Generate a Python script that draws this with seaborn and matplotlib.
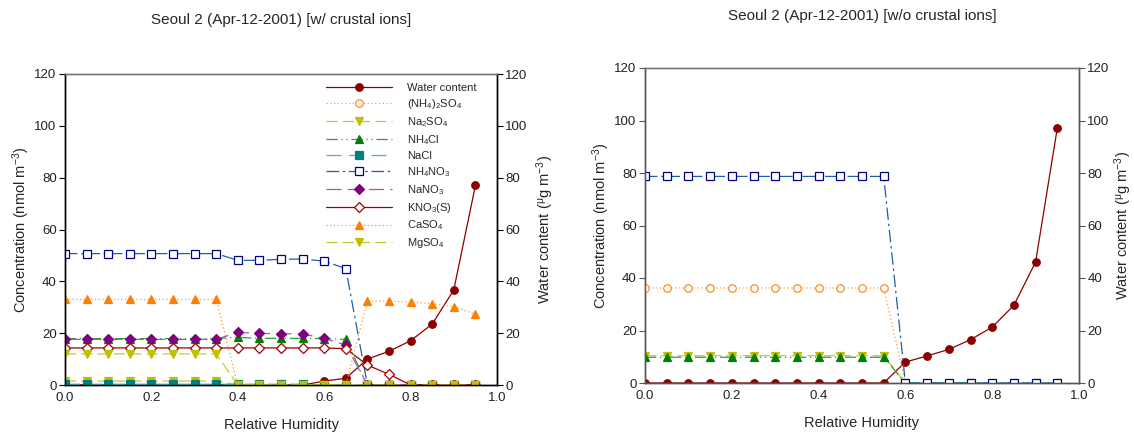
import matplotlib
matplotlib.use("Agg")
import matplotlib.pyplot as plt
import seaborn as sns

# -------------------------------
# Data
# -------------------------------
rh = [0.0, 0.05, 0.10, 0.15, 0.20, 0.25, 0.30, 0.35, 0.40, 0.45,
      0.50, 0.55, 0.60, 0.65, 0.70, 0.75, 0.80, 0.85, 0.90, 0.95]

# left panel: with crustal ions
water_L = [0, 0, 0, 0, 0, 0, 0, 0, 0, 0, 0, 0, 1.5, 2.6, 10.0, 13.0, 17.1, 23.5, 36.7, 77.0]
nh42so4_L = [0, 0, 0, 0, 0, 0, 0, 0, 0, 0, 0, 0, 0, 0, 0, 0, 0, 0, 0, 0]
na2so4_L = [1.5, 1.5, 1.5, 1.5, 1.5, 1.5, 1.5, 1.5, 0, 0, 0, 0, 0, 0, 0, 0, 0, 0, 0, 0]
nh4cl_L = [17.9, 17.9, 17.9, 17.9, 17.9, 17.9, 17.9, 17.9, 18.4, 18.0, 18.0, 18.0, 17.9, 17.6, 0, 0, 0, 0, 0, 0]
nacl_L = [0.3, 0.3, 0.3, 0.3, 0.3, 0.3, 0.3, 0.3, 0.3, 0.3, 0.3, 0.3, 0, 0, 0, 0, 0, 0, 0, 0]
nh4no3_L = [50.7, 50.7, 50.7, 50.7, 50.7, 50.7, 50.7, 50.7, 48.1, 48.1, 48.5, 48.6, 47.8, 44.9, 0, 0, 0, 0, 0, 0]
nano3_L = [17.6, 17.6, 17.6, 17.6, 17.6, 17.6, 17.6, 17.6, 20.3, 19.9, 19.8, 19.7, 18.0, 15.4, 0, 0, 0, 0, 0, 0]
kno3_L = [14.3, 14.3, 14.3, 14.3, 14.3, 14.3, 14.3, 14.3, 14.3, 14.3, 14.3, 14.3, 14.3, 14.0, 7.7, 4.1, 0, 0, 0, 0]
caso4_L = [33.0, 33.0, 33.0, 33.0, 33.0, 33.0, 33.0, 33.0, 0, 0, 0, 0, 0, 0, 32.5, 32.3, 32.0, 31.4, 30.2, 27.3]
mgso4_L = [12.0, 12.0, 12.0, 12.0, 12.0, 12.0, 12.0, 12.0, 0, 0, 0, 0, 0, 0, 0, 0, 0, 0, 0, 0]

# right panel: without crustal ions
water_R = [0, 0, 0, 0, 0, 0, 0, 0, 0, 0, 0, 0, 8.0, 10.3, 12.8, 16.5, 21.3, 29.6, 46.1, 97.1]
nh42so4_R = [36.2, 36.2, 36.2, 36.2, 36.2, 36.2, 36.2, 36.2, 36.2, 36.2, 36.2, 36.2, 0, 0, 0, 0, 0, 0, 0, 0]
na2so4_R = [10.4, 10.4, 10.4, 10.4, 10.4, 10.4, 10.4, 10.4, 10.4, 10.4, 10.4, 10.4, 0, 0, 0, 0, 0, 0, 0, 0]
nh4cl_R = [9.8, 9.8, 9.8, 9.8, 9.8, 9.8, 9.8, 9.8, 9.8, 9.8, 9.8, 9.8, 0, 0, 0, 0, 0, 0, 0, 0]
nh4no3_R = [78.7, 78.7, 78.7, 78.7, 78.7, 78.7, 78.7, 78.7, 78.7, 78.7, 78.7, 78.7, 0, 0, 0, 0, 0, 0, 0, 0]

titles = ["Seoul 2 (Apr-12-2001) [w/ crustal ions]", "Seoul 2 (Apr-12-2001) [w/o crustal ions]"]

# -------------------------------
# Series styles
# -------------------------------
styles = {
    "water":   dict(label="Water content", color="#8B0000", ls="-", marker="o", mfc="#8B0000", mec="#8B0000"),
    "nh42so4": dict(label=r"(NH$_4$)$_2$SO$_4$", color="#FF9933", ls=(0, (1, 2)), marker="o", mfc="white", mec="#FF8C1A"),
    "na2so4":  dict(label=r"Na$_2$SO$_4$", color="#C8C832", ls=(0, (9, 4)), marker="v", mfc="#C0C000", mec="#C0C000"),
    "nh4cl":   dict(label=r"NH$_4$Cl", color="#30A030", ls=(0, (9, 3, 1, 3, 1, 3)), marker="^", mfc="#008000", mec="#008000"),
    "nacl":    dict(label="NaCl", color="#50B4B4", ls=(0, (12, 6)), marker="s", mfc="#008080", mec="#008080"),
    "nh4no3":  dict(label=r"NH$_4$NO$_3$", color="#1F5FAA", ls=(0, (10, 3, 2, 3)), marker="s", mfc="white", mec="#00008B"),
    "nano3":   dict(label=r"NaNO$_3$", color="#B050B0", ls=(0, (12, 5)), marker="D", mfc="#800080", mec="#800080"),
    "kno3":    dict(label=r"KNO$_3$(S)", color="#A00000", ls="-", marker="D", mfc="white", mec="#A00000"),
    "caso4":   dict(label=r"CaSO$_4$", color="#FF9933", ls=(0, (1, 2)), marker="^", mfc="#FF8000", mec="#FF8000"),
    "mgso4":   dict(label=r"MgSO$_4$", color="#C8C832", ls=(0, (9, 4)), marker="v", mfc="#C0C000", mec="#C0C000"),
}

sns.set_style("white")
plt.rcParams["font.family"] = ["Liberation Sans", "DejaVu Sans"]
plt.rcParams["mathtext.default"] = "regular"


def draw(ax, y, key):
    s = styles[key]
    ms = 5.4 if s["marker"] != "D" else 5.0
    sns.lineplot(x=rh, y=y, ax=ax, legend=False, label=s["label"],
                 color=s["color"], linestyle=s["ls"], linewidth=0.9,
                 marker=s["marker"], markersize=ms,
                 markerfacecolor=s["mfc"], markeredgecolor=s["mec"],
                 markeredgewidth=0.9)


def setup(ax, twin, spine_col, rpad):
    for a in (ax, twin):
        a.set_xlim(0, 1.0)
        a.set_ylim(0, 120)
        a.set_yticks([0, 20, 40, 60, 80, 100, 120])
        for sp in a.spines.values():
            sp.set_color(spine_col)
            sp.set_linewidth(1.0)
    ax.spines["top"].set_color("#777777")
    twin.spines["top"].set_color("#777777")
    ax.set_xticks([0.0, 0.2, 0.4, 0.6, 0.8, 1.0])
    ax.set_xticklabels(["0.0", "0.2", "0.4", "0.6", "0.8", "1.0"])
    ax.tick_params(axis="x", length=0, pad=5, labelsize=9.5, colors="#222222")
    ax.tick_params(axis="y", left=True, length=4, width=0.8, pad=2, labelsize=9.5,
                   colors=spine_col, labelcolor="#222222")
    twin.tick_params(axis="y", right=True, length=4, width=0.8, pad=2, labelsize=9.5,
                     colors=spine_col, labelcolor="#222222")
    ax.set_xlabel("Relative Humidity", fontsize=10.5, labelpad=10)
    ax.set_ylabel(r"Concentration (nmol m$^{-3}$)", fontsize=10.5, labelpad=2)
    twin.set_ylabel(r"Water content ($^{\mu}$g m$^{-3}$)", fontsize=10.5, labelpad=rpad)
    # water content sits below the species
    ax.set_zorder(twin.get_zorder() + 1)
    ax.patch.set_visible(False)


fig = plt.figure(figsize=(11.34, 4.32), dpi=100)

# -------------------------------
# Left panel
# -------------------------------
axL = fig.add_axes([65 / 1134, 1 - 385 / 432, 432 / 1134, 311 / 432])
twL = axL.twinx()
draw(twL, water_L, "water")
draw(axL, nh42so4_L, "nh42so4")
draw(axL, na2so4_L, "na2so4")
draw(axL, nh4cl_L, "nh4cl")
draw(axL, nacl_L, "nacl")
draw(axL, nh4no3_L, "nh4no3")
draw(axL, nano3_L, "nano3")
draw(axL, kno3_L, "kno3")
draw(axL, caso4_L, "caso4")
draw(axL, mgso4_L, "mgso4")
setup(axL, twL, "black", 5)

h1, l1 = twL.get_legend_handles_labels()
h2, l2 = axL.get_legend_handles_labels()
axL.legend(h1 + h2, l1 + l2, loc="upper left", bbox_to_anchor=(0.605, 0.97),
           frameon=False, fontsize=8, handlelength=5.9, handletextpad=1.4,
           labelspacing=0.36, borderpad=0, borderaxespad=0)

# -------------------------------
# Right panel
# -------------------------------
axR = fig.add_axes([645 / 1134, 1 - 383 / 432, 434 / 1134, 315 / 432])
twR = axR.twinx()
draw(twR, water_R, "water")
draw(axR, nh42so4_R, "nh42so4")
draw(axR, na2so4_R, "na2so4")
draw(axR, nh4cl_R, "nh4cl")
draw(axR, nh4no3_R, "nh4no3")
setup(axR, twR, "#555555", 2)

fig.text(281 / 1134, 1 - 20 / 432, titles[0], ha="center", va="center", fontsize=11)
fig.text(862 / 1134, 1 - 16 / 432, titles[1], ha="center", va="center", fontsize=11)

plt.savefig("out.png", dpi=100)
